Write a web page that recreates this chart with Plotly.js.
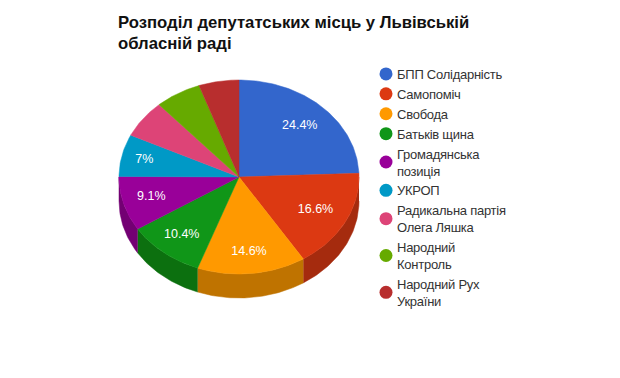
<!DOCTYPE html>
<html><head><meta charset="utf-8">
<script src="https://cdn.plot.ly/plotly-3.0.1.min.js"></script>
<style>html,body{margin:0;padding:0;background:#fff}#c{width:620px;height:378px}
.legendtext{letter-spacing:-0.25px}</style>
</head><body><div id="c"></div>
<script>
const parties = ["БПП Солідарність","Самопоміч","Свобода","Батьків щина","Громадянська<br>позиція","УКРОП","Радикальна партія<br>Олега Ляшка","Народний<br>Контроль","Народний Рух<br>України"];
const shares = [24.4,16.6,14.6,10.4,9.1,7,6.3,6.2,5.4];
const sliceLabels = ["24.4%","16.6%","14.6%","10.4%","9.1%","7%","","",""];
const labelRadius = [0.73,0.72,0.78,0.76,0.76,0.81,0.72,0.72,0.72];
const topColors = ["#3366cc","#dc3912","#ff9900","#109618","#990099","#0099c6","#dd4477","#66aa00","#b82e2e"];
const wallColors = ["#26509f","#a52b0e","#bf7300","#0c700f","#730073","#007394","#a63359","#4d8000","#8a2222"];

const W=620,H=378,cx=239,cy=177,rx=120,ry=97,depth=24;
const FONT='"Liberation Sans", Arial, sans-serif';
const total=shares.reduce((a,b)=>a+b,0);
const rad=d=>d*Math.PI/180;
function arc(a,b,dy){const xs=[],ys=[];const n=Math.max(2,Math.ceil(Math.abs(b-a)));
  for(let i=0;i<=n;i++){const t=a+(b-a)*i/n;xs.push(Math.sin(rad(t)));ys.push(Math.cos(rad(t))-dy);}return {xs,ys};}
const walls=[],tops=[],lx=[],ly=[];
let start=0;
shares.forEach((v,i)=>{
  const end=start+v/total*360,mid=(start+end)/2;
  const a=Math.max(start,90),b=Math.min(end,270);
  if(b>a){
    const up=arc(a,b,0),low=arc(b,a,depth/ry);
    walls.push({type:'scatter',mode:'lines',x:up.xs.concat(low.xs),y:up.ys.concat(low.ys),fill:'toself',fillcolor:wallColors[i],line:{color:wallColors[i],width:0.5},showlegend:false,hoverinfo:'skip'});
  }
  const e=arc(start,end,0);
  tops.push({type:'scatter',mode:'lines',x:[0].concat(e.xs,[0]),y:[0].concat(e.ys,[0]),fill:'toself',fillcolor:topColors[i],line:{color:topColors[i],width:0.5},showlegend:false,name:parties[i]});
  lx.push(labelRadius[i]*Math.sin(rad(mid)));ly.push(labelRadius[i]*Math.cos(rad(mid)));
  start=end;
});
const labels={type:'scatter',mode:'text',x:lx,y:ly,text:sliceLabels,textposition:'middle center',textfont:{family:FONT,size:12.5,color:'#fff'},showlegend:false,hoverinfo:'skip'};
const keys=parties.map((p,i)=>({type:'scatter',mode:'markers',x:[null],y:[null],name:p,marker:{color:topColors[i],size:13,symbol:'circle'},showlegend:true}));
const layout={
  width:W,height:H,margin:{l:0,r:0,t:0,b:0},paper_bgcolor:'#fff',plot_bgcolor:'#fff',
  font:{family:FONT,color:'#222'},
  title:{text:"Розподіл депутатських місць у Львівській<br>обласній раді",font:{family:FONT,size:16.7,weight:700,color:'#111'},x:118/W,xanchor:'left',xref:'paper',y:1-27.5/H,yanchor:'top',yref:'container',pad:{t:0,l:0,r:0,b:0}},
  xaxis:{range:[-cx/rx,(W-cx)/rx],visible:false,fixedrange:true},
  yaxis:{range:[-(H-cy)/ry,cy/ry],visible:false,fixedrange:true},
  legend:{x:357/W,xanchor:'left',y:1-59/H,yanchor:'top',font:{family:FONT,size:13,color:'#333'},bgcolor:'rgba(0,0,0,0)',itemwidth:30,tracegroupgap:0,traceorder:'normal'},
  showlegend:true
};
Plotly.newPlot('c',walls.concat(tops,[labels],keys),layout,{staticPlot:true,displayModeBar:false}).then(function(gd){
  gd.querySelectorAll('.legend .legendsymbols').forEach(function(g){g.setAttribute('transform','translate(9,0)');});
});
</script></body></html>
